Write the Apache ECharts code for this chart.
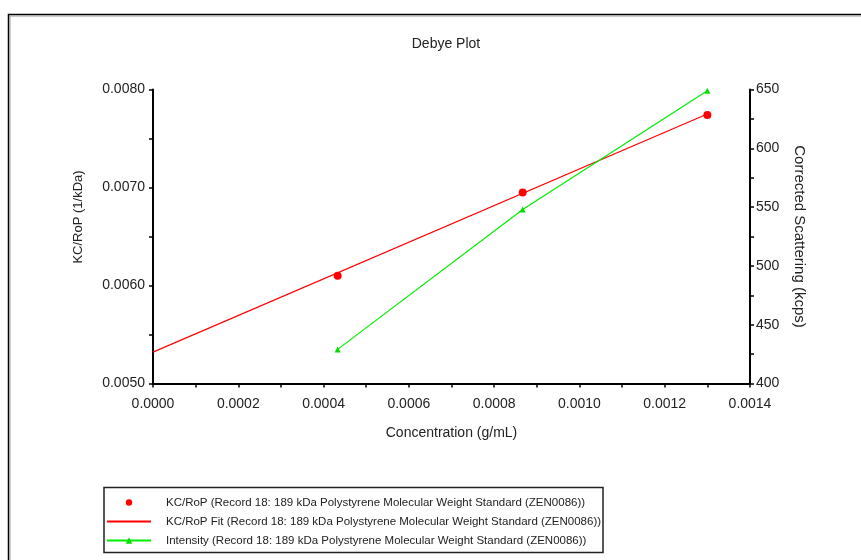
<!DOCTYPE html>
<html><head><meta charset="utf-8">
<script src="https://cdn.jsdelivr.net/npm/echarts@6/dist/echarts.min.js"></script>
<style>html,body{margin:0;padding:0;background:#fff}#c{width:861px;height:560px}</style>
</head><body><div id="c"></div>
<script>
var concentration = [0.000433, 0.000867, 0.0013];
var kcRop = [0.0061, 0.00695, 0.00774];
var fitX = [0, 0.0013];
var fitY = [0.00532, 0.00775];
var intensity = [429, 548, 649];
var xTicks = {min: 0, max: 0.0014, interval: 0.0002};
var yLeftTicks = {min: 0.005, max: 0.008, interval: 0.001};
var yRightTicks = {min: 400, max: 650, interval: 50};
var seriesNames = [
  'KC/RoP (Record 18: 189 kDa Polystyrene Molecular Weight Standard (ZEN0086))',
  'KC/RoP Fit (Record 18: 189 kDa Polystyrene Molecular Weight Standard (ZEN0086))',
  'Intensity (Record 18: 189 kDa Polystyrene Molecular Weight Standard (ZEN0086))'
];

var FONT = 'Liberation Sans, Arial, sans-serif';
function pairs(xs, ys){ return xs.map(function(x,i){ return [x, ys[i]]; }); }
var axisCommon = {
  axisLine: {show: true, onZero: false, lineStyle: {color: '#000', width: 2}},
  axisTick: {show: true, length: 4, lineStyle: {color: '#000', width: 1.5}},
  minorTick: {show: true, splitNumber: 2, length: 4, lineStyle: {color: '#000', width: 1.5}},
  splitLine: {show: false}
};
function merge(a, b){ var o = {}; for (var k in a) o[k]=a[k]; for (var k2 in b) o[k2]=b[k2]; return o; }

var chart = echarts.init(document.getElementById('c'), null, {renderer: 'canvas'});
chart.setOption({
  animation: false,
  backgroundColor: '#fff',
  title: {text: 'Debye Plot', left: 441, top: 32, textAlign: 'center',
    textStyle: {fontSize: 14, fontWeight: 'normal', color: '#222', fontFamily: FONT}},
  grid: {left: 153, right: 111, top: 89.5, bottom: 176.5, containLabel: false},
  xAxis: merge(axisCommon, {
    type: 'value', min: xTicks.min, max: xTicks.max, interval: xTicks.interval,
    name: 'Concentration (g/mL)', nameLocation: 'middle', nameGap: 43,
    nameTextStyle: {color: '#222', fontSize: 14, fontFamily: FONT},
    axisLabel: {color: '#222', fontSize: 14, fontFamily: FONT, margin: 14,
      formatter: function(v){ return v.toFixed(4); }}
  }),
  yAxis: [
    merge(axisCommon, {
      type: 'value', position: 'left', min: yLeftTicks.min, max: yLeftTicks.max, interval: yLeftTicks.interval,
      axisLabel: {color: '#222', fontSize: 14, fontFamily: FONT, margin: 8,
        formatter: function(v){ return v.toFixed(4); }}
    }),
    merge(axisCommon, {
      type: 'value', position: 'right', min: yRightTicks.min, max: yRightTicks.max, interval: yRightTicks.interval,
      name: 'Corrected Scattering (kcps)', nameLocation: 'middle', nameRotate: -90, nameGap: 42,
      nameTextStyle: {color: '#222', fontSize: 15, fontFamily: FONT},
      axisLabel: {color: '#222', fontSize: 14, fontFamily: FONT, margin: 6}
    })
  ],
  legend: {
    orient: 'vertical', left: 106, top: 496.5, padding: 0,
    itemWidth: 44, itemHeight: 8, itemGap: 7,
    textStyle: {fontSize: 11.5, color: '#222', fontFamily: FONT, padding: [0, 0, 0, 10]},
    data: [
      {name: seriesNames[0]},
      {name: seriesNames[1], itemStyle: {opacity: 0}},
      {name: seriesNames[2]}
    ]
  },
  graphic: [
    {type: 'rect', shape: {x: 8.5, y: 14.5, width: 900, height: 600}, style: {fill: 'none', stroke: '#000', lineWidth: 1.5}, silent: true},
    {type: 'rect', shape: {x: 10, y: 16, width: 900, height: 600}, style: {fill: 'none', stroke: '#999', lineWidth: 1}, silent: true},
    {type: 'rect', shape: {x: 104, y: 487.5, width: 499, height: 65}, style: {fill: 'none', stroke: '#222', lineWidth: 1.5}, silent: true},
    {type: 'text', x: 78, y: 217, rotation: Math.PI/2,
      style: {text: 'KC/RoP (1/kDa)', fill: '#222', font: '13px ' + FONT, align: 'center', verticalAlign: 'middle'}}
  ],
  series: [
    {name: seriesNames[0], type: 'line', xAxisIndex: 0, yAxisIndex: 0, data: pairs(concentration, kcRop),
      symbol: 'circle', symbolSize: 8, showSymbol: true, z: 5,
      itemStyle: {color: '#ff0000'}, lineStyle: {width: 0, opacity: 0}},
    {name: seriesNames[1], type: 'line', xAxisIndex: 0, yAxisIndex: 0, data: pairs(fitX, fitY),
      symbol: 'none', itemStyle: {color: '#ff0000'}, lineStyle: {color: '#ff0000', width: 1.2}},
    {name: seriesNames[2], type: 'line', xAxisIndex: 0, yAxisIndex: 1, data: pairs(concentration, intensity),
      symbol: 'triangle', symbolSize: 6, showSymbol: true,
      itemStyle: {color: '#00e000'}, lineStyle: {color: '#00ee00', width: 1.2}}
  ]
});
</script></body></html>
